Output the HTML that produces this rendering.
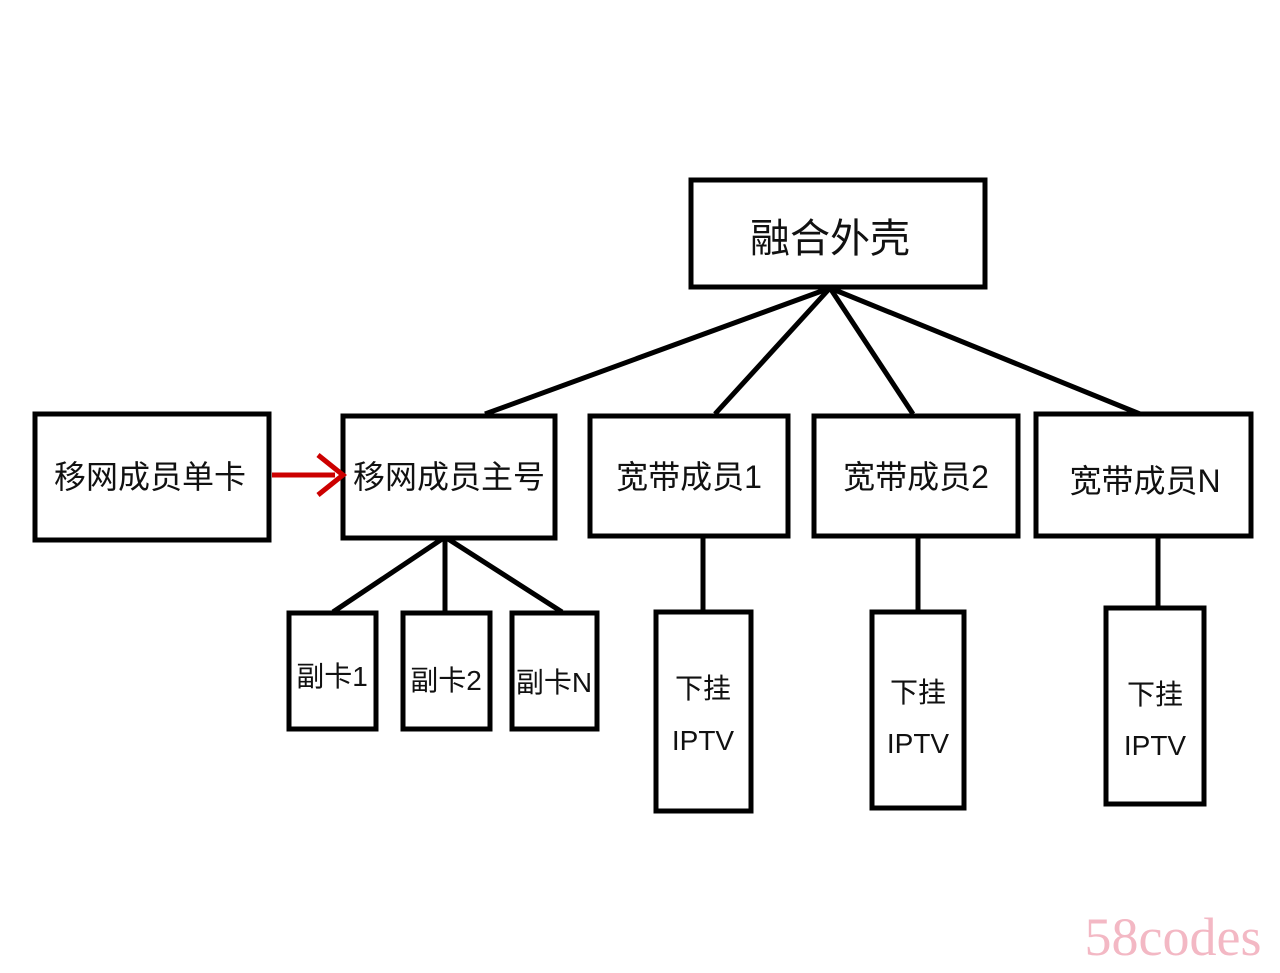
<!DOCTYPE html>
<html><head><meta charset="utf-8"><style>
html,body{margin:0;padding:0;background:#fff;}
svg text{font-family:"Liberation Sans","Noto Sans CJK SC",sans-serif;fill:#111;}
</style></head><body>
<svg width="1280" height="968" viewBox="0 0 1280 968" xmlns="http://www.w3.org/2000/svg">
<rect width="1280" height="968" fill="#fff"/>
<g stroke="#000" stroke-width="5" fill="none">
<line x1="830" y1="288" x2="485" y2="414"/>
<line x1="830" y1="288" x2="715" y2="414"/>
<line x1="830" y1="288" x2="913" y2="414"/>
<line x1="830" y1="288" x2="1140" y2="414"/>
<line x1="445" y1="537" x2="333" y2="612"/>
<line x1="445" y1="537" x2="445" y2="612"/>
<line x1="445" y1="537" x2="562" y2="612"/>
<line x1="703" y1="538" x2="703" y2="610"/>
<line x1="918" y1="538" x2="918" y2="610"/>
<line x1="1158" y1="538" x2="1158" y2="606"/>
<rect x="691" y="180" width="294" height="107" fill="#fff"/>
<rect x="35" y="414" width="234" height="126" fill="#fff"/>
<rect x="343" y="416" width="212" height="122" fill="#fff"/>
<rect x="590" y="416" width="198" height="120" fill="#fff"/>
<rect x="814" y="416" width="204" height="120" fill="#fff"/>
<rect x="1036" y="414" width="215" height="122" fill="#fff"/>
<rect x="289" y="613" width="87" height="116" fill="#fff"/>
<rect x="403" y="613" width="87" height="116" fill="#fff"/>
<rect x="512" y="613" width="85" height="116" fill="#fff"/>
<rect x="656" y="612" width="95" height="199" fill="#fff"/>
<rect x="872" y="612" width="92" height="196" fill="#fff"/>
<rect x="1106" y="608" width="98" height="196" fill="#fff"/>
</g>
<line x1="272" y1="475" x2="335" y2="475" stroke="#c00" stroke-width="5"/>
<polyline points="318,455 343,475 318,495" stroke="#c00" stroke-width="5" fill="none"/>
<g font-size="32" text-anchor="middle">
<text x="830" y="252" font-size="40">融合外壳</text>
<text x="150" y="488">移网成员单卡</text>
<text x="449" y="488">移网成员主号</text>
<text x="689" y="488">宽带成员1</text>
<text x="916" y="488">宽带成员2</text>
<text x="1145" y="492">宽带成员N</text>
<text x="332" y="686" font-size="28">副卡1</text>
<text x="446" y="690" font-size="28">副卡2</text>
<text x="554" y="692" font-size="28">副卡N</text>
<text x="703" y="698" font-size="28">下挂</text>
<text x="703" y="750" font-size="28">IPTV</text>
<text x="918" y="702" font-size="28">下挂</text>
<text x="918" y="753" font-size="28">IPTV</text>
<text x="1155" y="704" font-size="28">下挂</text>
<text x="1155" y="755" font-size="28">IPTV</text>
</g>
<text x="1173" y="955" font-size="54" text-anchor="middle" style="font-family:'Liberation Serif',serif;fill:#f3b8c4">58codes</text>
</svg>
</body></html>
